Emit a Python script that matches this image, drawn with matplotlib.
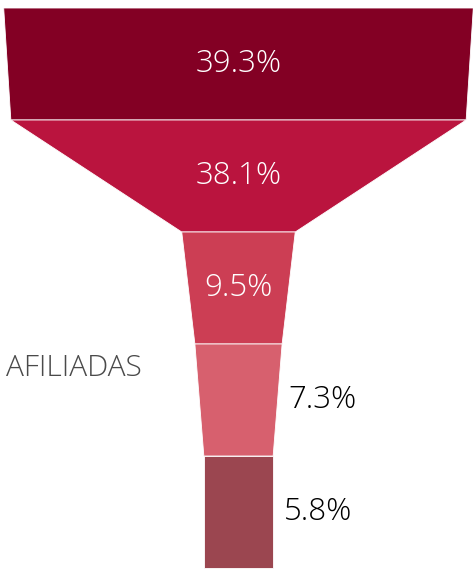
import matplotlib
matplotlib.use("Agg")
from matplotlib import pyplot as plt
from matplotlib.patches import Polygon

# funnel stages, top to bottom
values = [39.3, 38.1, 9.5, 7.3, 5.8]
labels = ["39.3%", "38.1%", "9.5%", "7.3%", "5.8%"]
colors = ["#830024", "#ba143e", "#cc3e54", "#d7606e", "#9b4650"]
inside = [True, True, True, False, False]
side_label = "AFILIADAS"

plt.rcParams['font.family'] = ['Open Sans', 'DejaVu Sans']

fig = plt.figure(figsize=(4.73, 5.72), dpi=100)
ax = fig.add_axes([0, 0, 1, 1])

n = len(values)
for i, v in enumerate(values):
    top = v / 2
    bot = values[i + 1] / 2 if i + 1 < n else v / 2
    poly = Polygon([(-top, i), (top, i), (bot, i + 1), (-bot, i + 1)],
                   closed=True, facecolor=colors[i], edgecolor="white", linewidth=0.6)
    ax.add_patch(poly)
    if inside[i]:
        ax.text(0, i + 0.5, labels[i], color="white", fontsize=22.5,
                fontweight="light", ha="center", va="center")
    else:
        edge = (top + bot) / 2
        ax.annotate(labels[i], (edge, i + 0.5), xytext=(8, 0), textcoords="offset points",
                    color="black", fontsize=22.5, fontweight="light", ha="left", va="center")

ax.text(-19.45, 3.22, side_label, color="#4a4a4a", fontsize=21.5,
        fontweight="light", ha="left", va="center")

px = 11.95  # pixels per percent
ax.set_xlim(-238.5 / px, (473 - 238.5) / px)
ax.set_ylim((572 - 8) / 112, -8 / 112)
ax.axis("off")

plt.savefig("out.png", dpi=100)
